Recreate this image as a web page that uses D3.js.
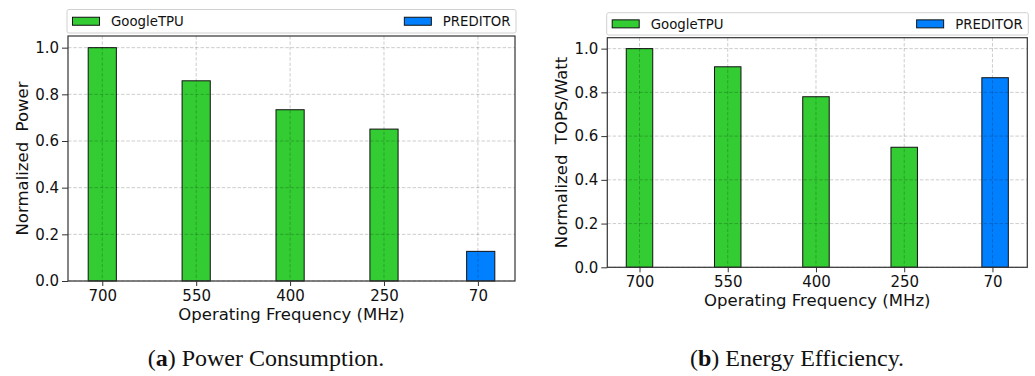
<!DOCTYPE html>
<html>
<head>
<meta charset="utf-8">
<script src="https://cdn.jsdelivr.net/npm/d3@7"></script>
<style>
  body { margin: 0; background: #fff; }
  svg text { font-family: "DejaVu Sans", sans-serif; }
  .caption { font-family: "Liberation Serif", "DejaVu Serif", serif; }
</style>
</head>
<body>
<div id="container"></div>
<script>
// data
var freqs = ["700", "550", "400", "250", "70"];
var seriesNames = ["GoogleTPU", "PREDITOR"];
var seriesColors = ["#33cc33", "#0080ff"];
var powerTPU = [1.0, 0.858, 0.734, 0.651];
var powerPRED = [0.127];
var effTPU = [1.0, 0.917, 0.78, 0.549];
var effPRED = [0.867];
var yTicks = [0.0, 0.2, 0.4, 0.6, 0.8, 1.0];

var W = 1035, H = 376;

var svg = d3.select("#container").append("svg")
    .attr("width", W)
    .attr("height", H);

// panel layout
var panels = [
  { left: 68, right: 515, top: 36, bottom: 281,
    legTop: 9.5, legBottom: 33, legLeft: 67, legRight: 516,
    ylabel: "Normalized  Power", ylabelX: 22,
    tpu: powerTPU, pred: powerPRED,
    capLetter: "a", capText: " Power Consumption.", capX: 266 },
  { left: 607.3, right: 1027.3, top: 37.7, bottom: 267.3,
    legTop: 12.7, legBottom: 35, legLeft: 606.7, legRight: 1028.3,
    ylabel: "Normalized  TOPS/Watt", ylabelX: 561.5,
    tpu: effTPU, pred: effPRED,
    capLetter: "b", capText: " Energy Efficiency.", capX: 797 }
];

var barW = 0.3, predShift = 0.03;

panels.forEach(function(p) {
  var x = d3.scaleLinear()
      .domain([-0.365, 4.395])
      .range([p.left, p.right]);
  var y = d3.scaleLinear()
      .domain([0, 1.05])
      .range([p.bottom, p.top]);

  var g = svg.append("g");

  var bars = [];
  p.tpu.forEach(function(v, i) { bars.push({ i: i, v: v, c: seriesColors[0] }); });
  p.pred.forEach(function(v, i) { bars.push({ i: p.tpu.length + i + predShift, v: v, c: seriesColors[1] }); });

  g.selectAll("rect.bar")
      .data(bars)
    .enter().append("rect")
      .attr("class", "bar")
      .attr("x", function(d) { return x(d.i - barW / 2); })
      .attr("width", function(d) { return x(d.i + barW / 2) - x(d.i - barW / 2); })
      .attr("y", function(d) { return y(d.v); })
      .attr("height", function(d) { return y(0) - y(d.v); })
      .style("fill", function(d) { return d.c; })
      .style("stroke", "#111")
      .style("stroke-width", 1);

  // grid on top of bars
  g.append("g").selectAll("line")
      .data(yTicks)
    .enter().append("line")
      .attr("x1", p.left).attr("x2", p.right)
      .attr("y1", function(d) { return y(d); })
      .attr("y2", function(d) { return y(d); })
      .style("stroke", "#000").style("stroke-opacity", 0.2)
      .style("stroke-dasharray", "3.5,1.8");
  g.append("g").selectAll("line")
      .data(freqs)
    .enter().append("line")
      .attr("x1", function(d, i) { return x(i); })
      .attr("x2", function(d, i) { return x(i); })
      .attr("y1", p.top).attr("y2", p.bottom)
      .style("stroke", "#000").style("stroke-opacity", 0.2)
      .style("stroke-dasharray", "3.5,1.8");

  // axes
  var xAxis = d3.axisBottom(x)
      .tickValues(d3.range(freqs.length))
      .tickFormat(function(d) { return freqs[d]; })
      .tickSize(5).tickPadding(4);
  var yAxis = d3.axisLeft(y)
      .tickValues(yTicks)
      .tickFormat(d3.format(".1f"))
      .tickSize(6).tickPadding(3);

  var xa = g.append("g")
      .attr("transform", "translate(0," + p.bottom + ")")
      .call(xAxis);
  var ya = g.append("g")
      .attr("transform", "translate(" + p.left + ",0)")
      .call(yAxis);
  [xa, ya].forEach(function(a) {
    a.select(".domain").remove();
    a.selectAll("text").style("font-size", "15px").style("fill", "#111");
    a.selectAll("line").style("stroke", "#333");
  });

  // frame
  g.append("rect")
      .attr("x", p.left).attr("y", p.top)
      .attr("width", p.right - p.left).attr("height", p.bottom - p.top)
      .style("fill", "none").style("stroke", "#333").style("stroke-width", 1.2);

  // labels
  g.append("text")
      .attr("x", (p.left + p.right) / 2)
      .attr("y", p.bottom + 39)
      .style("text-anchor", "middle")
      .style("font-size", "16.5px")
      .style("fill", "#111")
      .text("Operating Frequency (MHz)");

  g.append("text")
      .attr("transform", "translate(" + p.ylabelX + "," + ((p.top + p.bottom) / 2) + ") rotate(-90)")
      .attr("dy", "0.35em")
      .style("text-anchor", "middle")
      .style("font-size", "16.5px")
      .style("fill", "#111")
      .style("white-space", "pre")
      .text(p.ylabel);

  // legend (expanded across the top)
  var leg = g.append("g");
  leg.append("rect")
      .attr("x", p.legLeft).attr("y", p.legTop)
      .attr("width", p.legRight - p.legLeft).attr("height", p.legBottom - p.legTop)
      .attr("rx", 2)
      .style("fill", "#fff").style("stroke", "#d0d0d0").style("stroke-width", 1);
  var ly = (p.legTop + p.legBottom) / 2;
  leg.append("rect")
      .attr("x", p.legLeft + 5.5).attr("y", ly - 4)
      .attr("width", 27).attr("height", 8)
      .style("fill", seriesColors[0]).style("stroke", "#111");
  leg.append("text")
      .attr("x", p.legLeft + 44).attr("y", ly).attr("dy", "0.35em")
      .style("font-size", "13.3px").style("fill", "#111")
      .text(seriesNames[0]);
  var predText = leg.append("text")
      .attr("x", p.legRight - 5.5).attr("y", ly).attr("dy", "0.35em")
      .style("font-size", "13.3px").style("fill", "#111")
      .style("text-anchor", "end")
      .text(seriesNames[1]);
  var tw = predText.node().getComputedTextLength();
  leg.append("rect")
      .attr("x", p.legRight - 5.5 - tw - 38.5).attr("y", ly - 4)
      .attr("width", 27).attr("height", 8)
      .style("fill", seriesColors[1]).style("stroke", "#111");

  // caption
  var cap = svg.append("text")
      .attr("class", "caption")
      .attr("x", p.capX).attr("y", 366)
      .style("text-anchor", "middle")
      .style("font-size", "24px")
      .style("fill", "#111");
  cap.append("tspan").text("(");
  cap.append("tspan").style("font-weight", "bold").text(p.capLetter);
  cap.append("tspan").text(")" + p.capText);
});
</script>
</body>
</html>
